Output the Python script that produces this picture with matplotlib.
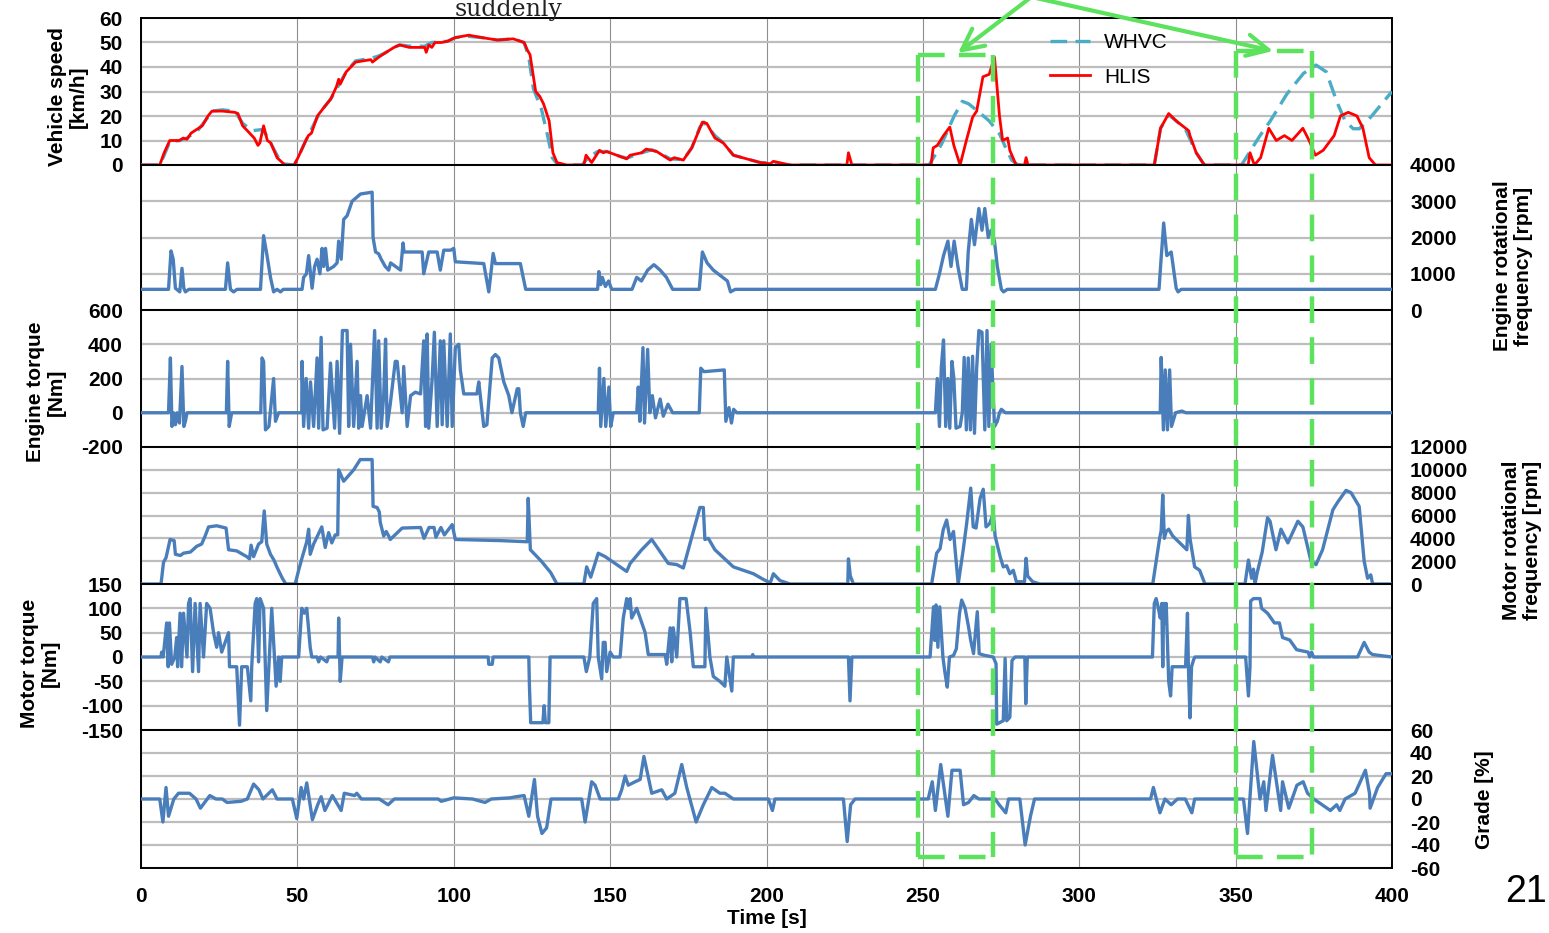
import numpy as np
import matplotlib
matplotlib.use("Agg")
import matplotlib.pyplot as plt
from matplotlib.lines import Line2D
from matplotlib.patches import FancyArrowPatch

plt.rcParams['font.family'] = ['Liberation Sans', 'DejaVu Sans']
plt.rcParams['font.weight'] = 'bold'
plt.rcParams['axes.unicode_minus'] = False

# ---------------- data (time [s], value) ----------------
hlis_speed = [(0,0),(6,0),(7.4,5),(9.2,10),(12.3,10),(13.5,11),(14.7,10.5),(16,13),(18.4,15),(19.6,16),(21.4,20),(22.7,22),(26,22),(30,21.5),(31,21),(32.5,16),(34,14),(36.2,11),(37.4,8),(38,9),(39.2,16),(40.4,10),(41.5,9),(43.5,3),(46,0),(49,0),(50.2,3),(52.7,10),(53.5,12),(54.5,13),(56.4,20),(58.2,23),(60.7,27),(62.5,32),(63.2,35),(63.7,33),(65.6,38),(68.6,42),(73.5,43),(74,42),(76,44),(78.4,46),(80.9,48),(82.7,49),(85.8,48),(90.7,48),(91.2,46),(92,49),(93,48),(94,50),(96,50),(98,50.5),(100.5,52),(104.8,53),(109,52),(114,51),(119,51.5),(122.5,50),(123.5,47),(124.4,45),(126.2,30),(127.5,28),(128.7,25),(130.5,18),(131.7,5),(133,1),(136,0),(141.6,0),(142.3,4),(144.1,1),(146.6,6),(147.8,5),(148.9,5.5),(153.2,3.5),(155.3,2.5),(156.4,4),(160.1,5),(161.5,6.5),(163.3,6),(164.9,5.5),(169.2,2),(170.5,3),(173.4,2),(176.1,7),(178.7,15),(179.5,17.5),(180.9,17),(183.5,11),(186.2,9),(189.4,4),(193.7,2.5),(198,1),(201.2,0.5),(202.2,1.5),(207.5,0),(225.7,0),(226.2,5),(227.3,0),(252.6,0),(253.3,7),(254.6,8),(256.6,12),(258.6,15.5),(259.9,8),(261.9,0),(263.9,10),(265.9,19.5),(267.2,22),(269.2,36),(271.2,37),(272.9,44),(274.5,20),(275.5,10),(277.1,11),(277.8,6),(279.8,0),(282.5,0),(283,3),(283.6,0),(324,0),(326,15),(328.6,21),(331,18),(334,15),(335,14),(335.4,12),(337.4,5),(340,0),(354,0),(354.6,5),(356,0),(358,3),(360.6,15),(363,10),(365.6,12),(368,10),(371.5,15),(373.5,10),(375.5,4),(378,6),(381.5,12),(383.5,20),(386,21.5),(388.8,20),(390.7,15),(392.7,3),(394.7,0),(400,0)]

whvc_speed = [(0,0),(6,0),(7.4,4),(9.2,9.5),(12.3,10),(14.7,11),(18.4,14.5),(21.4,19.5),(22.7,22),(26,22.5),(30,22),(32.5,17),(35.5,14),(39,14.5),(41,10),(43.5,4),(45,0.5),(49,0),(50.2,3),(52.7,10),(56.4,19.5),(58.2,23),(60.7,27),(62.5,31),(65.6,38),(68.6,42.5),(73.5,43.5),(76,44.5),(78.4,46),(80.9,48),(82.7,49),(85.8,48.5),(90.7,48.5),(93,50),(98,50.5),(100.5,52),(104.8,52.5),(109,52),(114,51),(119,51.5),(122.5,50),(124,44),(125.5,31),(128,23),(130,12),(131.5,3),(133,0.5),(136,0),(141,0),(143,3),(146,5.5),(149,5.5),(153.2,3.5),(155.3,2.8),(160.1,5),(163.3,6.2),(164.9,5.5),(169.2,2.5),(173.4,2.2),(176.1,7),(178.7,15.5),(180,17.5),(183.5,12),(186.2,9),(189.4,4),(193.7,2.5),(198,1),(202,0.8),(207.5,0),(252,0),(256,8.6),(260,20),(262.6,26),(264.6,25),(267.9,21.6),(271.2,18),(274.5,12.7),(276.5,7),(278.4,2),(280.4,0),(324,0),(326,15),(328.6,20.5),(331,18),(334,14.5),(337.4,5),(340,0),(351.9,0),(357.8,12),(361.1,18),(366.4,29),(371.7,37.4),(375.7,40.8),(379,38),(382.3,26),(385,18),(387.6,14.8),(389.6,14.8),(393.5,20),(400,30)]

engine_rpm = [(0,570),(8.8,570),(9.6,1630),(10.3,1400),(11,600),(12.4,500),(13.1,1150),(13.7,600),(14.2,500),(15.3,570),(27,570),(27.7,1300),(28.6,570),(29.6,500),(30.7,570),(38.2,570),(39.2,2050),(40.3,1500),(41.4,900),(42.4,500),(43.5,570),(44.6,500),(45.5,570),(51.5,570),(52,900),(52.9,1000),(53.6,1500),(54.7,600),(55.5,1200),(56.3,1400),(57.2,1000),(57.9,1700),(58.4,1200),(59,1700),(59.7,1100),(61.6,1200),(62.7,1300),(63.2,1900),(64,1400),(64.8,2500),(65.9,2600),(67.5,3000),(70.2,3200),(73.9,3250),(74.2,2000),(75,1600),(76,1550),(76.8,1400),(78.1,1200),(79.2,1100),(79.8,1300),(83,1100),(83.8,1850),(84.1,1600),(89.9,1600),(90.4,1000),(92,1600),(94.7,1600),(95.7,1100),(96.8,1650),(99,1650),(100,1700),(100.5,1330),(109.6,1280),(111.2,500),(112.6,1560),(113.3,1280),(121.3,1280),(123,570),(146,570),(146.4,1060),(147,700),(147.5,900),(148.5,650),(149.5,800),(150.5,570),(157,570),(158.5,900),(160,800),(162,1100),(164,1250),(166,1100),(168,900),(170,570),(178.5,570),(179.5,1600),(181,1300),(183,1100),(186,900),(187.5,800),(188.5,500),(190,570),(254,570),(255.3,1000),(256.6,1500),(258,1900),(259,1200),(260,1900),(261.2,1200),(262.6,570),(263.9,570),(264.5,1600),(265.5,2500),(266.5,1800),(267.9,2800),(268.9,2200),(269.8,2800),(270.9,2000),(271.8,2200),(272.9,1900),(273.8,1200),(275.1,570),(275.8,500),(277,570),(325.5,570),(326,1200),(327,2400),(328,1500),(329.4,1600),(331,600),(331.6,500),(332.6,570),(400,570)]

engine_torque = [(0,0),(8.8,0),(9.4,320),(9.9,-80),(10.4,0),(11,-70),(11.5,0),(12.3,-60),(13.1,270),(13.7,-80),(14.2,-50),(14.7,0),(27.3,0),(27.7,300),(28.2,-80),(29,0),(38.3,0),(38.7,320),(39.2,300),(39.8,-100),(40.9,-80),(42.4,200),(43,-50),(44,0),(51.4,0),(51.5,300),(52,-80),(52.8,200),(53.6,-90),(54.2,180),(55.2,-80),(56.3,320),(56.8,-90),(57.6,440),(58.2,-100),(59.5,-90),(60.6,290),(61.9,-90),(62.7,300),(63.5,-120),(64.4,480),(65.9,480),(66.4,-80),(67,400),(68,-80),(69.1,300),(69.6,-90),(70.2,100),(70.7,-80),(72.3,100),(73.4,-90),(74.7,480),(75.5,-90),(76,420),(76.8,-90),(77.6,100),(78.2,430),(78.7,-80),(79.7,50),(81.3,300),(81.9,300),(83.5,0),(84,270),(85.1,-80),(86.2,100),(87.7,120),(89.4,110),(90.4,420),(91,-80),(91.5,460),(92,-90),(93.1,200),(93.8,470),(94.7,-80),(95.7,420),(96.3,-70),(96.8,420),(97.9,-80),(98.9,460),(99.5,-80),(100.5,380),(101.6,400),(102.1,250),(103.2,110),(107.4,110),(108,180),(109.6,-80),(110.6,-70),(112.3,320),(113.3,340),(114.4,320),(116,180),(117.6,100),(118.6,0),(120.3,140),(120.8,140),(121.3,0),(122.2,-80),(123,0),(146.2,0),(146.6,260),(147,-80),(148,200),(148.6,-80),(149.6,150),(150.2,-80),(151,0),(158.5,0),(159,150),(159.5,-50),(160.5,380),(161,-60),(162,370),(162.7,0),(163.5,100),(164.5,-30),(166,80),(167,-20),(168.5,50),(170,0),(178.5,0),(179,260),(180,240),(186.5,250),(187,-50),(188,30),(188.8,-60),(189.5,20),(190.5,0),(254,0),(254.6,200),(255.3,-80),(255.9,265),(256.6,425),(257.3,-80),(258,200),(258.6,-90),(259.3,300),(259.9,200),(260.6,-90),(261.9,-80),(262.6,0),(263.2,323),(263.9,-100),(264.5,320),(265.2,-100),(265.9,330),(266.5,-120),(267.2,260),(267.9,480),(268.9,470),(269.8,-100),(270.5,480),(271.1,-80),(271.8,400),(272.9,-80),(273.8,-50),(274.5,0),(275.1,20),(276.4,0),(325.9,0),(326.2,323),(326.9,-100),(327.5,250),(328.2,-100),(328.9,250),(329.5,-80),(330.8,0),(332.8,10),(334.1,0),(400,0)]

motor_rpm = [(0,0),(6.4,0),(7.2,1900),(8,2300),(9.3,3900),(10.6,3800),(11,2600),(12.6,2500),(13.6,2700),(15.8,2800),(17.8,3300),(19.4,3500),(20.5,4200),(21.6,5000),(24.2,5100),(27.2,4900),(28,3000),(30.6,2900),(33.8,2400),(34.7,2200),(35.2,3400),(36,2400),(37.6,3500),(38.6,3700),(39.4,6400),(40.2,3500),(41.4,2600),(42.5,2100),(43.6,1400),(45.2,500),(46.3,0),(49.3,0),(50.4,1200),(51.4,2200),(53,3700),(53.6,4800),(54.1,2600),(55.2,3500),(57.8,5000),(58.9,3200),(60,4500),(61,3600),(62.1,4300),(62.9,4300),(63.2,10000),(64.8,9000),(68,10000),(70.1,10900),(73.9,10900),(74.2,6800),(75.5,6700),(76.2,6300),(76.5,5400),(77.6,4200),(78.4,4600),(79.2,4200),(79.7,3900),(83.5,4900),(89.4,4950),(90.5,4000),(92.1,4950),(93.7,4950),(94.3,4100),(95.9,4950),(97,4300),(99.5,5200),(100.5,3900),(115,3800),(123.5,3700),(123.8,7500),(124.5,3000),(128,2000),(131,1000),(133,0),(141.6,0),(142.5,1500),(143.8,600),(146.2,2700),(148.4,2400),(155.3,1100),(156.4,1800),(160.1,3000),(163.3,3900),(168.6,1800),(171.3,1700),(173.4,1400),(178.7,6700),(179.8,6700),(180.3,3900),(181.4,4000),(183.5,3000),(189.4,1500),(195.8,900),(199,400),(201.2,100),(202.2,900),(204.3,300),(207.5,0),(226,0),(226.2,2200),(226.8,700),(227.8,0),(252.8,0),(254.4,2700),(255.5,3100),(256.5,4750),(257.6,5600),(258.7,3900),(259.8,4600),(260.3,3000),(261.3,0),(262.9,3000),(264,5300),(265.3,8400),(266.1,5000),(267,4900),(268.3,7500),(269.3,8300),(270.2,5000),(271.4,5300),(272.5,6200),(273.1,4200),(274.7,2400),(275.7,1500),(276.8,1600),(277.8,900),(278.9,1200),(279.9,200),(282.5,200),(283,2250),(283.5,700),(285.1,200),(287.4,0),(323.5,0),(324.6,2000),(325.7,4000),(326.2,4700),(326.7,7800),(327.2,4000),(327.8,4600),(328.6,4800),(329.9,4200),(332.5,3500),(334.4,3000),(334.9,6000),(335.4,4000),(336.9,1500),(338.5,1200),(340.2,0),(353,0),(354.1,2100),(355.1,500),(355.7,1300),(356.2,0),(356.9,1000),(358.5,2800),(360.2,5800),(361,5500),(362.9,3000),(364.5,4800),(366.7,3600),(369.9,5500),(371.5,5000),(374.1,2000),(375.7,1700),(377.8,3000),(381.1,6500),(382.7,7200),(385.3,8200),(386.9,8000),(389.5,6800),(391.1,2000),(392.2,500),(393.2,800),(393.8,0),(400,0)]

motor_torque = [(0,0),(6.4,0),(6.6,10),(7.1,0),(8.2,70),(8.7,-20),(9.1,70),(9.8,-15),(10.8,0),(11.4,40),(11.7,-20),(12.5,90),(13,-20),(13.6,90),(14.7,0),(15.2,110),(15.7,120),(16.5,-30),(17.3,110),(18.4,-30),(18.9,110),(20,0),(21,110),(22.1,100),(23.2,50),(24.2,20),(24.8,50),(25.8,10),(28,50),(28.3,-20),(30.6,-20),(31.5,-140),(32.2,-20),(34,-20),(35.1,-90),(35.4,-20),(36.5,110),(37,120),(37.6,-10),(38.1,120),(39.2,100),(40.2,-110),(41.8,100),(43.2,-60),(44,0),(44.5,-50),(45,0),(50.4,0),(51.4,100),(52.2,90),(53,100),(54.1,20),(54.6,0),(56.3,0),(56.8,-10),(57.4,0),(59.4,-10),(59.9,0),(63,0),(63.2,80),(63.7,-50),(64.3,0),(74,0),(74.4,-10),(74.8,0),(76.5,-10),(77,0),(79.1,-10),(79.6,0),(111,0),(111.2,-15),(112.3,-15),(112.6,0),(124,0),(124.2,-60),(124.6,-135),(128.5,-135),(128.9,-100),(129.3,-135),(130.4,-135),(130.8,0),(141.6,0),(142.4,-30),(143.5,0),(144.6,110),(145.7,120),(146.2,0),(147.3,-45),(147.8,30),(148.4,30),(148.9,-30),(150,10),(151,0),(153.2,0),(154.2,80),(155.3,120),(155.8,100),(156.4,120),(156.9,80),(158.5,100),(159.6,80),(161.2,50),(162.2,5),(167.6,5),(168.1,-15),(169.2,60),(169.7,-10),(170.2,60),(171.3,0),(172.3,120),(174.3,120),(175.6,50),(176.6,-20),(180.3,-20),(180.6,100),(181.9,0),(183,-40),(185.1,-50),(186.7,-60),(187.3,0),(188.9,-70),(189.4,0),(195.3,0),(195.6,5),(195.9,0),(226.2,0),(226.7,-90),(227.3,0),(252.3,0),(253.4,103),(253.8,34),(254.2,107),(254.8,20),(255.4,103),(256,40),(256.4,0),(257.1,-34),(257.8,-62),(258.5,0),(259.8,3),(260.7,17),(261.7,89),(262.4,117),(263.5,100),(264.6,62),(265.3,34),(266.2,7),(267.4,93),(268,7),(269.3,4),(272.5,0),(273.4,-14),(273.6,-138),(275.7,-131),(276.3,-3),(276.8,-131),(277.8,-124),(278.5,-7),(279.5,0),(282.6,0),(282.9,-96),(283.4,0),(323.4,0),(324,110),(324.6,120),(325.3,100),(325.9,80),(326.4,110),(326.7,-20),(327,110),(327.4,70),(327.8,110),(328.6,-50),(329.2,-80),(329.7,-20),(334,-20),(334.6,90),(334.9,-20),(335.4,-125),(335.9,-20),(336.6,-5),(337,0),(353.2,0),(354.1,-80),(354.6,-20),(354.8,115),(355.7,120),(357.8,120),(358.3,100),(360.2,90),(362.4,70),(364,70),(365,40),(367.3,35),(369.5,15),(373.2,10),(373.7,0),(374.3,10),(374.9,0),(389,0),(391.1,30),(392.7,10),(393.8,5),(400,0)]

grade = [(0,0),(6,0),(7,-20),(8,10),(8.8,-15),(10.5,0),(12,5),(15.5,5),(17.6,0),(19,-8),(22,3),(24,0),(26,0),(27.5,-3),(32,-2),(34,0),(36,13),(37.7,8),(39,0),(42,8),(43.5,0),(48.4,0),(49.8,-17),(51.2,10),(52,0),(53,14),(54.8,-18),(56.5,-5),(57.6,2),(58.8,-10),(61.2,3),(64,-10),(65,5),(68.3,3),(69,5),(70.5,0),(76.2,0),(79,-5),(81,0),(95,0),(96,-2),(100,1),(106,0),(110,-3),(112,0),(118,1),(120,2),(122.5,3),(124,-15),(125.8,17),(126.8,-15),(128.2,-30),(129.7,-25),(131.1,0),(140.9,0),(142,-20),(144.1,15),(145.2,12),(146.8,0),(152.6,0),(153.7,8),(154.8,20),(155.8,12),(158,15),(159.6,17),(160.8,37),(163.3,5),(166.5,8),(168.1,0),(170.7,5),(172.9,30),(174.5,10),(177.5,-20),(179.8,-5),(182.5,10),(185.1,5),(186.7,5),(189.4,0),(200.6,0),(201.9,-10),(202.7,0),(224.6,0),(225.8,-37),(226.9,-5),(228.3,0),(251.7,0),(253,15),(254,-10),(255.7,30),(258,-15),(259.3,25),(261.9,25),(263,-5),(264.6,-3),(266.3,3),(267.9,0),(273.1,0),(274.4,-5),(276.5,-12),(277.4,0),(281,0),(282.7,-40),(284.4,-15),(285.7,0),(322.8,0),(323.7,10),(325.8,-12),(327.4,0),(329.4,-5),(331.4,0),(333.9,0),(336,-12),(336.9,0),(352.5,0),(353.8,-30),(355.8,50),(357.8,0),(359,15),(359.7,-10),(361,20),(361.8,38),(364.4,-10),(365,15),(367,-8),(369.6,12),(371.6,15),(373,5),(375,0),(380.3,-10),(382.3,-5),(383.3,-10),(385,0),(388.2,5),(391.5,25),(392.8,5),(393,-8),(395.4,10),(398.1,22),(400,22)]

time_ticks = [0, 50, 100, 150, 200, 250, 300, 350, 400]
highlight_windows = [(248.5, 272.5), (350.0, 374.5)]

# ---------------- layout ----------------
W, H = 1549, 933
fig = plt.figure(figsize=(W / 100, H / 100), dpi=100)

def fx(px):
    return px / W

def fy(py):
    return 1 - py / H

L, R = 141, 1392
edges = [18, 165, 310, 447, 584, 730, 868]
panel_cfg = [
    (0, 60, np.arange(0, 61, 10), 'left'),
    (0, 4000, np.arange(0, 4001, 1000), 'right'),
    (-200, 600, np.arange(-200, 601, 200), 'left'),
    (0, 12000, np.arange(0, 12001, 2000), 'right'),
    (-150, 150, np.arange(-150, 151, 50), 'left'),
    (-60, 60, np.arange(-60, 61, 20), 'right'),
]

BLUE = '#4A7EBB'
axes = []
for i, (lo, hi, ticks, side) in enumerate(panel_cfg):
    top, bot = edges[i], edges[i + 1]
    ax = fig.add_axes([fx(L), fy(bot), fx(R) - fx(L), (bot - top) / H])
    ax.set_xlim(0, 400)
    ax.set_ylim(lo, hi)
    ax.set_yticks(ticks)
    ax.set_xticks(time_ticks)
    ax.yaxis.grid(True, color='#BDBDBD', lw=1.6)
    ax.xaxis.grid(True, color='#8E8E8E', lw=0.8)
    ax.set_axisbelow(True)
    for s in ax.spines.values():
        s.set_color('black')
        s.set_linewidth(1.4)
    if side == 'right':
        ax.yaxis.tick_right()
    ax.tick_params(axis='y', length=0, labelsize=15, pad=13)
    ax.tick_params(axis='x', length=0, labelsize=15, pad=14,
                   labelbottom=(i == 5))
    axes.append(ax)

ax_spd, ax_erpm, ax_etrq, ax_mrpm, ax_mtrq, ax_grade = axes

def xy(series):
    a = np.array(series, dtype=float)
    return a[:, 0], a[:, 1]

t, v = xy(whvc_speed)
ax_spd.plot(t, v, color='#4BACC6', lw=2.4, dashes=(5, 2.5), zorder=3)
t, v = xy(hlis_speed)
ax_spd.plot(t, v, color='red', lw=2.0, zorder=4)

for ax, ser in [(ax_erpm, engine_rpm), (ax_etrq, engine_torque),
                (ax_mrpm, motor_rpm), (ax_mtrq, motor_torque),
                (ax_grade, grade)]:
    t, v = xy(ser)
    ax.plot(t, v, color=BLUE, lw=2.4, zorder=3, solid_joinstyle='round')

ax_grade.set_xlabel('Time [s]', fontsize=15, fontweight='bold', labelpad=2)

# legend
handles = [Line2D([], [], color='#4BACC6', lw=2.4, dashes=(5, 2.5)),
           Line2D([], [], color='red', lw=2.0)]
ax_spd.legend(handles, ['WHVC', 'HLIS'], loc='upper left',
              bbox_to_anchor=(fx(1050), fy(33)), bbox_transform=fig.transFigure,
              frameon=False, prop={'size': 15, 'weight': 'normal'},
              handlelength=1.9, handletextpad=0.7, labelspacing=0.75,
              borderpad=0, borderaxespad=0)

# axis titles
fig.text(fx(68), fy(97), 'Vehicle speed\n[km/h]', rotation=90, ha='center', va='center', fontsize=15, linespacing=1.15)
fig.text(fx(46), fy(392), 'Engine torque\n[Nm]', rotation=90, ha='center', va='center', fontsize=15, linespacing=1.15)
fig.text(fx(40), fy(663), 'Motor torque\n[Nm]', rotation=90, ha='center', va='center', fontsize=15, linespacing=1.15)
fig.text(fx(1513), fy(266), 'Engine rotational\nfrequency [rpm]', rotation=90, ha='center', va='center', fontsize=15, linespacing=1.15)
fig.text(fx(1522), fy(540), 'Motor rotational\nfrequency [rpm]', rotation=90, ha='center', va='center', fontsize=15, linespacing=1.15)
fig.text(fx(1484), fy(800), 'Grade [%]', rotation=90, ha='center', va='center', fontsize=15)

fig.text(fx(455), fy(16), 'suddenly', family='DejaVu Serif', fontsize=17,
         fontweight='normal', va='baseline', ha='left', color='#222222')
fig.text(fx(1547), fy(892), '21', fontsize=27, fontweight='normal', ha='right', va='center')

# green highlight boxes and arrows
GREEN = '#5DE25D'
box_tops = [55, 51]
box_bottom = 857
for (t0, t1), top in zip(highlight_windows, box_tops):
    x0 = L + t0 / 400 * (R - L)
    x1 = L + t1 / 400 * (R - L)
    for xs, ys in [((x0, x0), (top, box_bottom)), ((x1, x1), (top, box_bottom)),
                   ((x0, x1), (top, top)), ((x0, x1), (box_bottom, box_bottom))]:
        fig.add_artist(Line2D([fx(xs[0]), fx(xs[1])], [fy(ys[0]), fy(ys[1])],
                              transform=fig.transFigure, color=GREEN, lw=3.2,
                              dashes=(6, 3.2), zorder=10))

for start, end in [((1030, -2), (958, 53)), ((1036, -2), (1273, 51))]:
    fig.add_artist(FancyArrowPatch((fx(start[0]), fy(start[1])), (fx(end[0]), fy(end[1])),
                                   transform=fig.transFigure,
                                   arrowstyle='->,head_length=0.7,head_width=0.35',
                                   mutation_scale=22, lw=3, color=GREEN,
                                   shrinkA=0, shrinkB=0, zorder=10))

fig.savefig('out.png', dpi=100)
